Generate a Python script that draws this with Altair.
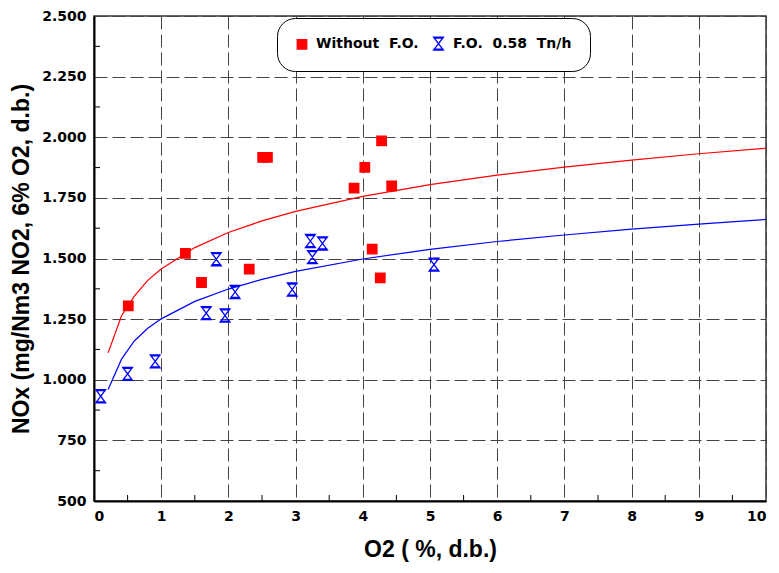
import altair as alt
import pandas as pd

# ---- data ----
series_names = ["Without\u00a0\u00a0F.O.", "F.O.\u00a0\u00a00.58\u00a0\u00a0Tn/h"]

red_x = [0.51, 1.36, 1.60, 2.31, 2.51, 2.58, 3.87, 4.03, 4.14, 4.26, 4.28, 4.43]
red_y = [1305, 1521, 1401, 1456, 1917, 1917, 1790, 1876, 1539, 1420, 1985, 1799]

blue_x = [0.10, 0.50, 0.91, 1.67, 1.82, 1.95, 2.10, 2.95, 3.22, 3.25, 3.40, 5.06]
blue_y = [932, 1024, 1076, 1275, 1497, 1265, 1362, 1372, 1572, 1506, 1562, 1475]

curve_x = [0.21, 0.41, 0.6, 0.8, 1, 1.5, 2, 2.5, 3, 4, 5, 6, 7, 8, 9, 10]
red_curve_y = [1111, 1264, 1345, 1410, 1457, 1545, 1607, 1655, 1694, 1756, 1805, 1844, 1877, 1906, 1932, 1955]
blue_curve_y = [960, 1085, 1160, 1212, 1251, 1323, 1374, 1414, 1447, 1498, 1538, 1570, 1597, 1621, 1642, 1661]

x_ticks = [0, 1, 2, 3, 4, 5, 6, 7, 8, 9, 10]
y_ticks = [500, 750, 1000, 1250, 1500, 1750, 2000, 2250, 2500]
x_minor = [0.5, 1.5, 2.5, 3.5, 4.5, 5.5, 6.5, 7.5, 8.5, 9.5]
y_minor = [625, 875, 1125, 1375, 1625, 1875, 2125, 2375]

# ---- tables ----
pts = pd.DataFrame(
    {"x": red_x + blue_x, "y": red_y + blue_y,
     "series": [series_names[0]] * len(red_x) + [series_names[1]] * len(blue_x)}
)
curves = pd.DataFrame(
    {"x": curve_x + curve_x, "y": red_curve_y + blue_curve_y,
     "series": [series_names[0]] * len(curve_x) + [series_names[1]] * len(curve_x)}
)
xm = pd.DataFrame({"x": x_minor})
ym = pd.DataFrame({"y": y_minor})

LABEL_FONT = "DejaVu Sans"
TITLE_FONT = "Liberation Sans"
hourglass = "M-0.75,-1 L0.75,-1 L-0.75,1 L0.75,1 Z M-0.75,-0.85 L0.75,-0.85 M-0.75,0.85 L0.75,0.85"

xscale = alt.Scale(domain=[0, 10], nice=False, zero=False)
yscale = alt.Scale(domain=[500, 2500], nice=False, zero=False)

xaxis = alt.Axis(values=x_ticks, title="O2 ( %, d.b.)", format="d")
yaxis = alt.Axis(values=y_ticks, title="NOx (mg/Nm3 NO2, 6% O2, d.b.)",
                 labelExpr="replace(format(datum.value, ','), ',', '.')")

base_x = alt.X("x:Q", scale=xscale, axis=xaxis)
base_y = alt.Y("y:Q", scale=yscale, axis=yaxis)

red_line = alt.Chart(curves).transform_filter(
    alt.datum.series == series_names[0]
).mark_line(strokeWidth=1.2, color="#ff0000", clip=True).encode(x=base_x, y=base_y)

blue_line = alt.Chart(curves).transform_filter(
    alt.datum.series == series_names[1]
).mark_line(strokeWidth=1.2, color="#0000ff", clip=True).encode(x=base_x, y=base_y)

points = alt.Chart(pts).mark_point(size=95, strokeWidth=1.3, opacity=1).encode(
    x=base_x, y=base_y,
    shape=alt.Shape("series:N", title=None,
                    scale=alt.Scale(domain=series_names, range=["square", hourglass])),
    stroke=alt.Stroke("series:N", title=None,
                      scale=alt.Scale(domain=series_names, range=["#ff0000", "#0000ff"])),
    fill=alt.Fill("series:N", title=None,
                  scale=alt.Scale(domain=series_names, range=["#ff0000", "transparent"])),
    size=alt.Size("series:N", title=None,
                  scale=alt.Scale(domain=series_names, range=[90, 170])),
)

yticks_minor = alt.Chart(ym).mark_rule(color="black", strokeWidth=1).encode(
    y=alt.Y("y:Q", scale=yscale), x=alt.value(0), x2=alt.value(6)
)
xticks_minor = alt.Chart(xm).mark_rule(color="black", strokeWidth=1).encode(
    x=alt.X("x:Q", scale=xscale), y=alt.value(485), y2=alt.value(479)
)

chart = alt.layer(yticks_minor, xticks_minor, red_line, blue_line, points).properties(
    width=672, height=485,
    autosize=alt.AutoSizeParams(type="none"),
    padding={"left": 86, "top": 8, "right": 5, "bottom": 70},
).configure_view(
    stroke="#333333", strokeWidth=1.5
).configure_axis(
    grid=True, gridColor="#444444", gridDash=[13, 5], gridWidth=1, gridOpacity=1,
    domainColor="black", domainWidth=2, ticks=False,
    labelFont=LABEL_FONT, labelFontWeight="bold", labelFontSize=14, labelColor="black",
    labelPadding=8,
    titleFont=TITLE_FONT, titleFontWeight="bold", titleFontSize=23, titleColor="black",
).configure_axisX(
    titlePadding=15,
).configure_axisY(
    titlePadding=8,
).configure_legend(
    orient="none", legendX=183, legendY=2, direction="horizontal",
    strokeColor="black", strokeWidth=1, cornerRadius=18, fillColor="white",
    padding=18, labelFont=LABEL_FONT, labelFontWeight="bold", labelFontSize=14,
    labelColor="black", symbolSize=120, symbolStrokeWidth=1.3, columnPadding=12,
    labelOffset=7, labelLimit=300,
)

chart.save("out.html", embed_options={"renderer": "svg", "actions": False})
